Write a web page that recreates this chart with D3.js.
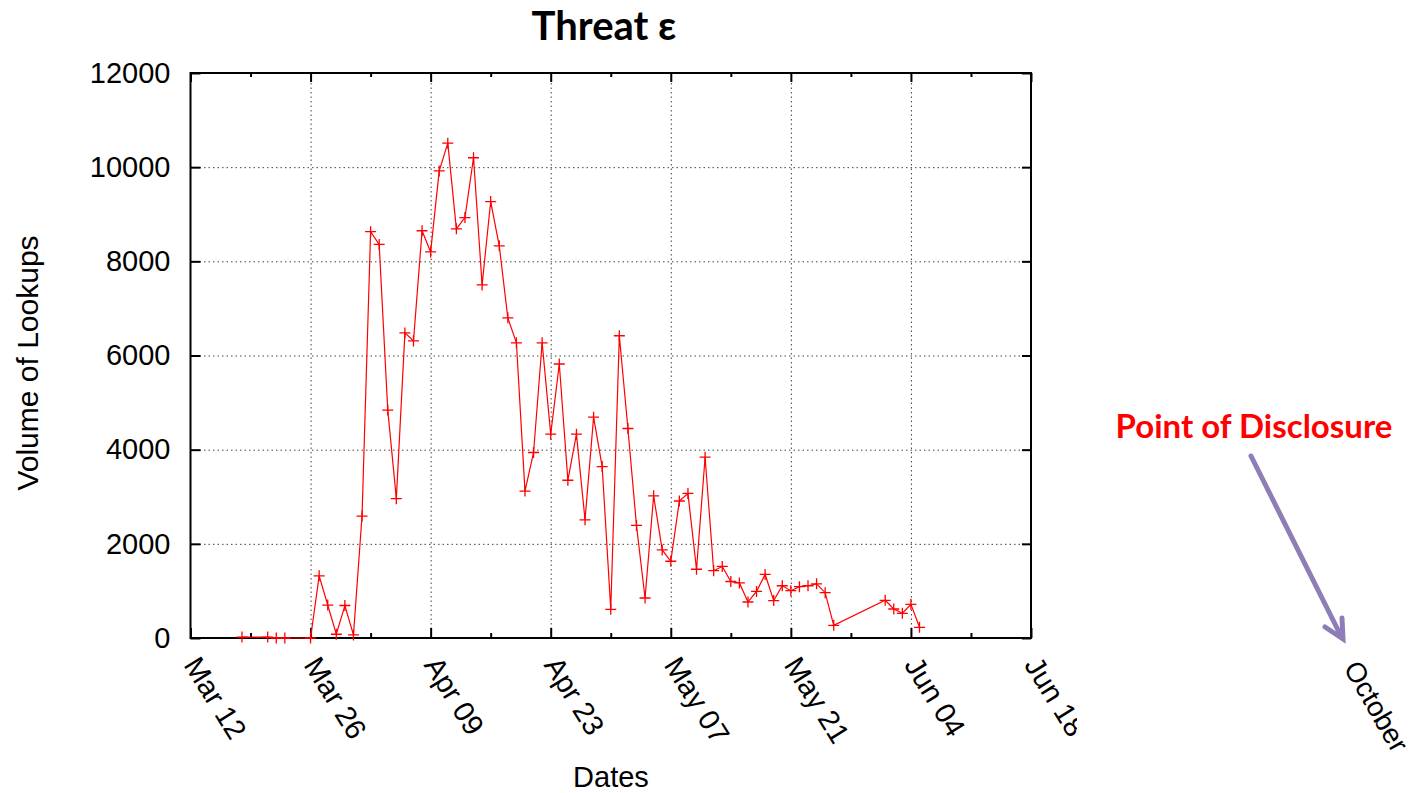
<!DOCTYPE html>
<html>
<head>
<meta charset="utf-8">
<script src="https://cdn.jsdelivr.net/npm/d3@7"></script>
<style>
  body { margin: 0; background: #fff; }
  svg { display: block; }
  .axis text { font-family: "Liberation Sans", Arial, Helvetica, sans-serif; font-size: 29px; fill: #000; }
  .grid line { stroke: #444; stroke-dasharray: 1.5, 3; }
</style>
</head>
<body>
<svg id="chart"></svg>
<script>
// daily volume of lookups for threat epsilon
const dates = [
  "2012-03-18", "2012-03-21", "2012-03-22", "2012-03-23", "2012-03-26",
  "2012-03-27", "2012-03-28", "2012-03-29", "2012-03-30", "2012-03-31",
  "2012-04-01", "2012-04-02", "2012-04-03", "2012-04-04", "2012-04-05",
  "2012-04-06", "2012-04-07", "2012-04-08", "2012-04-09", "2012-04-10",
  "2012-04-11", "2012-04-12", "2012-04-13", "2012-04-14", "2012-04-15",
  "2012-04-16", "2012-04-17", "2012-04-18", "2012-04-19", "2012-04-20",
  "2012-04-21", "2012-04-22", "2012-04-23", "2012-04-24", "2012-04-25",
  "2012-04-26", "2012-04-27", "2012-04-28", "2012-04-29", "2012-04-30",
  "2012-05-01", "2012-05-02", "2012-05-03", "2012-05-04", "2012-05-05",
  "2012-05-06", "2012-05-07", "2012-05-08", "2012-05-09", "2012-05-10",
  "2012-05-11", "2012-05-12", "2012-05-13", "2012-05-14", "2012-05-15",
  "2012-05-16", "2012-05-17", "2012-05-18", "2012-05-19", "2012-05-20",
  "2012-05-21", "2012-05-22", "2012-05-23", "2012-05-24", "2012-05-25",
  "2012-05-26", "2012-06-01", "2012-06-02", "2012-06-03", "2012-06-04",
  "2012-06-05"
];
const lookups = [
  20, 20, 0, 0, 0,
  1320, 700, 80, 690, 65,
  2590, 8630, 8360, 4840, 2960,
  6480, 6310, 8650, 8200, 9920,
  10510, 8690, 8930, 10200, 7500,
  9270, 8330, 6800, 6270, 3120,
  3940, 6270, 4330, 5820, 3350,
  4330, 2510, 4690, 3640, 610,
  6420, 4450, 2390, 850, 3020,
  1870, 1630, 2910, 3070, 1460,
  3840, 1430, 1520, 1200, 1170,
  765, 990, 1350, 795, 1110,
  1005, 1090, 1110, 1150, 962,
  270, 800, 616, 525, 716,
  227
];

const xTickDates = ["2012-03-12", "2012-03-26", "2012-04-09", "2012-04-23", "2012-05-07", "2012-05-21", "2012-06-04", "2012-06-18"];
const xTickLabels = ["Mar 12", "Mar 26", "Apr 09", "Apr 23", "May 07", "May 21", "Jun 04", "Jun 18"];
const xMinorDates = ["2012-03-19", "2012-04-02", "2012-04-16", "2012-04-30", "2012-05-14", "2012-05-28", "2012-06-11"];
const yTicks = [0, 2000, 4000, 6000, 8000, 10000, 12000];

const parseDate = d3.timeParse("%Y-%m-%d");
const data = dates.map((d, i) => ({ date: parseDate(d), value: lookups[i] }));
const majors = xTickDates.map(parseDate);
const minors = xMinorDates.map(parseDate);

const W = 1416, H = 793;
const plotL = 190.5, plotR = 1031, plotT = 73, plotB = 638;

const svg = d3.select("#chart").attr("width", W).attr("height", H);

const x = d3.scaleTime()
  .domain([majors[0], majors[majors.length - 1]])
  .range([plotL, plotR]);
const y = d3.scaleLinear()
  .domain([0, 12000])
  .range([plotB, plotT]);

// grid
svg.append("g")
  .attr("class", "grid")
  .attr("transform", `translate(0,${plotB})`)
  .call(d3.axisBottom(x).tickValues(majors.slice(1, -1)).tickSize(-(plotB - plotT)).tickFormat(""))
  .call(g => g.select(".domain").remove());
svg.append("g")
  .attr("class", "grid")
  .attr("transform", `translate(${plotL},0)`)
  .call(d3.axisLeft(y).tickValues(yTicks.slice(1, -1)).tickSize(-(plotR - plotL)).tickFormat(""))
  .call(g => g.select(".domain").remove());

// clip for the cut-off last date label
svg.append("clipPath").attr("id", "xclip")
  .append("rect").attr("x", 0).attr("y", -700).attr("width", 1077).attr("height", 900);

// bottom axis with rotated labels
const xAxisG = svg.append("g")
  .attr("class", "axis")
  .attr("transform", `translate(0,${plotB})`)
  .attr("clip-path", "url(#xclip)")
  .call(d3.axisBottom(x).tickValues(majors).tickSizeInner(-10).tickSizeOuter(0)
    .tickFormat((d, i) => xTickLabels[i]));
xAxisG.select(".domain").remove();
xAxisG.selectAll(".tick line").attr("stroke", "#000").attr("stroke-width", 2);
xAxisG.selectAll(".tick text")
  .attr("x", 0).attr("y", 0).attr("dy", 0)
  .attr("text-anchor", "start")
  .attr("transform", "translate(-8,27) rotate(58)");

svg.append("g")
  .attr("transform", `translate(0,${plotB})`)
  .call(d3.axisBottom(x).tickValues(minors).tickSizeInner(-5).tickSizeOuter(0).tickFormat(""))
  .call(g => g.select(".domain").remove())
  .selectAll("line").attr("stroke-width", 2);

// top mirrored ticks
svg.append("g")
  .attr("transform", `translate(0,${plotT})`)
  .call(d3.axisTop(x).tickValues(majors).tickSizeInner(-9).tickSizeOuter(0).tickFormat(""))
  .call(g => g.select(".domain").remove())
  .selectAll("line").attr("stroke-width", 2);
svg.append("g")
  .attr("transform", `translate(0,${plotT})`)
  .call(d3.axisTop(x).tickValues(minors).tickSizeInner(-4).tickSizeOuter(0).tickFormat(""))
  .call(g => g.select(".domain").remove())
  .selectAll("line").attr("stroke-width", 2);

// left axis
const yAxisG = svg.append("g")
  .attr("class", "axis")
  .attr("transform", `translate(${plotL},0)`)
  .call(d3.axisLeft(y).tickValues(yTicks).tickSizeInner(-10).tickSizeOuter(0).tickPadding(20)
    .tickFormat(d3.format("d")));
yAxisG.select(".domain").remove();
yAxisG.selectAll(".tick line").attr("stroke-width", 2);

// right mirrored ticks
svg.append("g")
  .attr("transform", `translate(${plotR},0)`)
  .call(d3.axisRight(y).tickValues(yTicks).tickSizeInner(-9).tickSizeOuter(0).tickFormat(""))
  .call(g => g.select(".domain").remove())
  .selectAll("line").attr("stroke-width", 2);

// frame
svg.append("rect")
  .attr("x", plotL).attr("y", plotT)
  .attr("width", plotR - plotL).attr("height", plotB - plotT)
  .attr("fill", "none").attr("stroke", "#000").attr("stroke-width", 2);

// series
const line = d3.line().x(d => x(d.date)).y(d => y(d.value));
svg.append("path")
  .datum(data)
  .attr("d", line)
  .attr("fill", "none")
  .attr("stroke", "#ff0000")
  .attr("stroke-width", 1.2);

svg.selectAll(".pt")
  .data(data)
  .enter()
  .append("path")
  .attr("class", "pt")
  .attr("transform", d => `translate(${x(d.date)},${y(d.value)})`)
  .attr("d", "M-5.5,0H5.5M0,-5.5V5.5")
  .attr("stroke", "#ff0000")
  .attr("stroke-width", 1.3);

// titles
svg.append("text")
  .attr("x", 604).attr("y", 40)
  .attr("text-anchor", "middle")
  .style("font-family", "Lato, 'Open Sans', sans-serif")
  .style("font-weight", "bold")
  .style("font-size", "40px")
  .text("Threat ε");

svg.append("text")
  .attr("transform", "translate(38,363) rotate(-90)")
  .attr("text-anchor", "middle")
  .style("font-family", "'Liberation Sans', Arial, sans-serif")
  .style("font-size", "30px")
  .text("Volume of Lookups");

svg.append("text")
  .attr("x", 611).attr("y", 787)
  .attr("text-anchor", "middle")
  .style("font-family", "'Liberation Sans', Arial, sans-serif")
  .style("font-size", "29px")
  .text("Dates");

// disclosure annotation
svg.append("text")
  .attr("x", 1254).attr("y", 438)
  .attr("text-anchor", "middle")
  .style("font-family", "Lato, 'Open Sans', sans-serif")
  .style("font-weight", "bold")
  .style("font-size", "33px")
  .attr("fill", "#ff0000")
  .text("Point of Disclosure");

const arrow = svg.append("g")
  .attr("stroke", "#8f7dba")
  .attr("stroke-width", 5)
  .attr("stroke-linecap", "round")
  .attr("fill", "none");
arrow.append("line").attr("x1", 1251).attr("y1", 456).attr("x2", 1342).attr("y2", 638);
arrow.append("path").attr("d", "M1325,627 L1343,639 L1342,618");

svg.append("text")
  .attr("transform", "translate(1343,668) rotate(60)")
  .style("font-family", "'Liberation Sans', Arial, sans-serif")
  .style("font-size", "28px")
  .text("October");
</script>
</body>
</html>
